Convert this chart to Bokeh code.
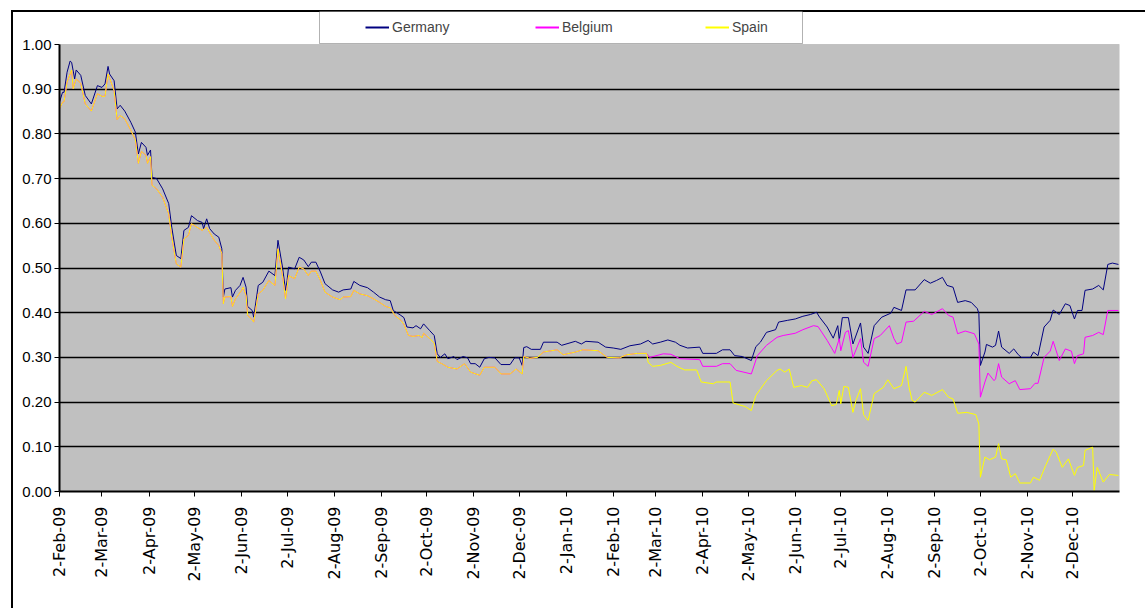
import math
import pandas as pd
from bokeh.plotting import figure
from bokeh.models import (Range1d, FixedTicker, NumeralTickFormatter, Legend, LegendItem,
                          BoxAnnotation, ColumnDataSource)
from bokeh.embed import file_html
from bokeh.resources import INLINE

# ---------------- data ----------------
START = "2009-02-02"  # day 0 of the series

tick_labels = ["2-Feb-09", "2-Mar-09", "2-Apr-09", "2-May-09", "2-Jun-09", "2-Jul-09",
               "2-Aug-09", "2-Sep-09", "2-Oct-09", "2-Nov-09", "2-Dec-09", "2-Jan-10",
               "2-Feb-10", "2-Mar-10", "2-Apr-10", "2-May-10", "2-Jun-10", "2-Jul-10",
               "2-Aug-10", "2-Sep-10", "2-Oct-10", "2-Nov-10", "2-Dec-10"]
y_ticks = [0.0, 0.1, 0.2, 0.3, 0.4, 0.5, 0.6, 0.7, 0.8, 0.9, 1.0]

germany_days = [0, 2, 3, 5, 7, 8, 10, 11, 14, 17,
                21, 25, 28, 30, 32, 33, 36, 38, 40, 43,
                47, 50, 52, 54, 57, 58, 60, 61, 64, 68,
                72, 74, 77, 80, 82, 85, 87, 91, 94, 95,
                97, 99, 102, 105, 107, 108, 109, 113, 114, 116,
                119, 121, 123, 124, 127, 128, 131, 134, 138, 142,
                144, 147, 149, 150, 151, 155, 158, 161, 164, 166,
                169, 172, 175, 180, 184, 187, 192, 194, 198, 203,
                207, 211, 215, 218, 220, 225, 227, 229, 233, 235,
                238, 240, 244, 247, 249, 251, 254, 256, 260, 262,
                266, 269, 271, 274, 277, 280, 283, 287, 291, 297,
                300, 303, 305, 306, 308, 311, 317, 319, 328, 331,
                340, 344, 347, 355, 360, 365, 370, 376, 383, 388,
                391, 396, 401, 406, 409, 414, 422, 424, 433, 437,
                442, 445, 450, 456, 459, 462, 466, 472, 474, 480,
                485, 490, 495, 499, 501, 506, 510, 513, 514, 516,
                520, 523, 528, 530, 533, 537, 542, 548, 550, 555,
                558, 564, 570, 574, 578, 582, 585, 589, 592, 597,
                601, 605, 606, 607, 610, 611, 615, 617, 619, 621,
                626, 629, 632, 634, 640, 642, 645, 649, 653, 655,
                659, 663, 666, 669, 671, 674, 676, 681, 685, 688,
                691, 694, 698]
germany_vals = [.871, .893, .893, .938, .963, .960, .923, .943, .931, .886,
                .867, .908, .904, .912, .951, .934, .919, .856, .864, .851,
                .826, .804, .755, .781, .770, .752, .764, .703, .700, .677,
                .644, .591, .528, .521, .584, .591, .617, .606, .602, .588,
                .610, .588, .576, .569, .543, .435, .453, .456, .435, .450,
                .461, .479, .457, .414, .405, .390, .461, .468, .493, .483,
                .562, .502, .450, .472, .502, .498, .524, .518, .503, .513,
                .513, .491, .465, .451, .446, .451, .453, .470, .461, .456,
                .446, .435, .429, .427, .405, .394, .389, .368, .366, .371,
                .364, .375, .360, .349, .308, .300, .308, .297, .302, .295,
                .302, .299, .286, .286, .278, .297, .300, .299, .284, .284,
                .299, .299, .282, .322, .324, .318, .318, .334, .334, .327,
                .336, .330, .336, .334, .323, .321, .318, .326, .330, .338,
                .330, .334, .339, .334, .327, .321, .323, .309, .309, .317,
                .317, .304, .302, .293, .324, .334, .356, .362, .379, .383,
                .386, .392, .396, .401, .390, .368, .343, .371, .338, .389,
                .389, .330, .377, .323, .309, .371, .390, .399, .412, .405,
                .451, .451, .474, .466, .472, .479, .461, .457, .423, .427,
                .423, .409, .398, .282, .312, .329, .323, .327, .359, .323,
                .309, .319, .306, .300, .300, .312, .304, .368, .383, .406,
                .396, .420, .416, .386, .405, .405, .450, .453, .461, .451,
                .508, .511, .508]

# Belgium and Spain coincide until late Feb 2010
shared_days = [0, 2, 3, 5, 8, 9, 11, 14, 17, 21,
               25, 28, 30, 32, 36, 38, 40, 43, 47, 50,
               52, 54, 57, 58, 60, 61, 64, 68, 72, 74,
               77, 80, 82, 85, 87, 94, 97, 102, 105, 107,
               108, 109, 113, 114, 116, 120, 121, 123, 124, 127,
               128, 131, 134, 138, 142, 144, 147, 149, 150, 151,
               155, 158, 161, 164, 166, 169, 172, 175, 180, 185,
               187, 192, 194, 198, 203, 207, 211, 215, 218, 221,
               225, 227, 230, 233, 237, 239, 240, 244, 247, 249,
               252, 256, 262, 267, 271, 277, 280, 287, 291, 297,
               301, 305, 306, 310, 315, 319, 328, 332, 340, 345,
               355, 361, 369, 374, 381, 387]
shared_vals = [.856, .871, .872, .916, .943, .901, .923, .913, .867, .851,
               .890, .884, .884, .934, .897, .832, .841, .834, .808, .787,
               .734, .761, .752, .734, .749, .685, .677, .658, .621, .569,
               .509, .502, .565, .573, .599, .584, .591, .562, .550, .532,
               .420, .435, .436, .414, .431, .450, .457, .438, .394, .384,
               .379, .442, .450, .472, .461, .543, .483, .431, .456, .483,
               .476, .502, .498, .483, .493, .493, .472, .446, .435, .429,
               .435, .436, .450, .442, .438, .431, .423, .414, .411, .394,
               .383, .374, .349, .347, .349, .344, .354, .342, .332, .291,
               .286, .278, .274, .286, .267, .260, .278, .278, .263, .263,
               .274, .263, .302, .298, .300, .312, .317, .306, .312, .317,
               .315, .300, .299, .306, .309, .309]

belgium_days = [389, 398, 403, 409, 422, 424, 433, 437, 442, 446,
                456, 460, 466, 473, 477, 485, 490, 497, 500, 506,
                511, 514, 515, 518, 520, 523, 528, 530, 533, 537,
                541, 547, 550, 552, 555, 558, 563, 570, 575, 582,
                586, 589, 592, 597, 603, 606, 607, 610, 612, 616,
                617, 619, 621, 626, 630, 633, 640, 643, 645, 649,
                653, 655, 659, 663, 667, 669, 671, 675, 676, 681,
                685, 688, 691, 698]
belgium_vals = [.300, .308, .307, .297, .295, .280, .280, .286, .286, .271,
                .263, .304, .327, .345, .349, .354, .362, .371, .369, .338,
                .309, .342, .315, .356, .360, .300, .342, .289, .280, .342,
                .349, .371, .342, .330, .334, .379, .381, .403, .396, .409,
                .394, .390, .353, .359, .353, .330, .211, .245, .265, .248,
                .252, .286, .256, .241, .248, .228, .230, .242, .242, .300,
                .314, .336, .293, .319, .314, .286, .304, .308, .345, .349,
                .356, .351, .405, .405]

spain_days = [388, 391, 396, 403, 407, 412, 420, 423, 431, 433,
              442, 444, 452, 456, 459, 466, 473, 475, 478, 481,
              484, 489, 493, 496, 499, 504, 509, 512, 514, 515,
              517, 520, 523, 525, 528, 530, 533, 537, 540, 543,
              546, 550, 555, 558, 560, 562, 564, 570, 575, 582,
              586, 589, 592, 598, 604, 606, 607, 610, 613, 617,
              619, 621, 624, 627, 630, 633, 640, 642, 646, 650,
              655, 657, 661, 665, 669, 671, 675, 676, 681, 682,
              684, 688, 692, 698]
spain_vals = [.289, .280, .282, .289, .280, .272, .272, .245, .241, .245,
              .245, .198, .190, .181, .215, .248, .271, .274, .267, .274,
              .233, .237, .233, .248, .250, .230, .192, .195, .226, .196,
              .235, .233, .177, .204, .230, .172, .159, .219, .226, .233,
              .250, .230, .237, .280, .233, .204, .200, .222, .215, .228,
              .211, .207, .175, .177, .172, .151, .032, .077, .071, .077,
              .107, .073, .071, .032, .040, .019, .019, .032, .025, .058,
              .095, .088, .054, .073, .036, .054, .058, .092, .099, .002,
              .054, .021, .038, .036]

series_names = ["Germany", "Belgium", "Spain"]
series_colors = ["#000080", "#FF00FF", "#FFFF00"]

# ---------------- build ----------------
start = pd.Timestamp(START)


def to_dates(days):
    return start + pd.to_timedelta(days, unit="D")


series = [(to_dates(germany_days), germany_vals),
          (to_dates(shared_days + belgium_days), shared_vals + belgium_vals),
          (to_dates(shared_days + spain_days), shared_vals + spain_vals)]

# frame runs from y=10 (so the legend sits inside it) down to the 0.00 line
p = figure(width=1145, height=608, x_axis_type="datetime", output_backend="svg",
           toolbar_location=None,
           min_border_left=59, min_border_right=26, min_border_top=10, min_border_bottom=117,
           background_fill_color=None, border_fill_alpha=0,
           outline_line_color=None)
# outer chart-area frame (left and top edges) drawn behind the transparent canvas
p.styles = {"background": "linear-gradient(#000, #000) 11px 10px / 2px 100% no-repeat, "
                          "linear-gradient(#000, #000) 11px 10px / 100% 2px no-repeat, #fff"}
p.x_range = Range1d(start, start + pd.Timedelta(days=698.7))
p.y_range = Range1d(0, 481 / 447)

# grey plot area 0..1
p.add_layout(BoxAnnotation(bottom=y_ticks[0], top=y_ticks[-1], fill_color="#C0C0C0", fill_alpha=1,
                           line_color="#808080", line_width=1, level="image"))

for (xs, ys), c in zip(series, series_colors):
    p.line(x=xs, y=ys, color=c, line_width=1)

# legend swatches: one-point (hence invisible) lines drawn 2px wide in the key
swatches = [p.line(x=xs[:1], y=ys[:1], color=c, line_width=2)
            for (xs, ys), c in zip(series, series_colors)]

# axes
epoch = pd.Timestamp("1970-01-01")
tick_dates = pd.to_datetime(tick_labels, format="%d-%b-%y")
tick_ms = [int((d - epoch).total_seconds() * 1000) for d in tick_dates]
p.xaxis.ticker = FixedTicker(ticks=tick_ms)
p.xaxis.major_label_overrides = {m: lab for m, lab in zip(tick_ms, tick_labels)}
p.xaxis.major_label_orientation = math.pi / 2
p.xaxis.major_label_text_font = "DejaVu Sans"
p.xaxis.major_label_text_font_size = "16px"
p.xaxis.major_label_standoff = 10

p.yaxis.ticker = FixedTicker(ticks=y_ticks)
p.yaxis.bounds = (y_ticks[0], y_ticks[-1])
p.yaxis.formatter = NumeralTickFormatter(format="0.00")
p.yaxis.major_label_text_font = "Liberation Sans"
p.yaxis.major_label_text_font_size = "15px"
p.yaxis.major_label_standoff = 3

for ax in (p.xaxis[0], p.yaxis[0]):
    ax.axis_line_color = "black"
    ax.axis_line_width = 2
    ax.major_tick_line_color = "black"
    ax.major_tick_line_width = 1
    ax.major_tick_out = 5
    ax.major_tick_in = 0
    ax.minor_tick_line_color = None
    ax.major_label_text_color = "black"

p.xgrid.visible = False
p.ygrid.ticker = FixedTicker(ticks=y_ticks[1:-1])
p.ygrid.grid_line_color = "black"
p.ygrid.grid_line_width = 1.6

# legend: white box with black border above the grey area
p.add_layout(BoxAnnotation(left=260, right=743, top=480, bottom=448,
                           left_units="screen", right_units="screen",
                           top_units="screen", bottom_units="screen",
                           fill_color="white", fill_alpha=1, line_color="black", line_width=1))
legend = Legend(items=[LegendItem(label=n, renderers=[s]) for n, s in zip(series_names, swatches)],
                orientation="horizontal", location=(302, 450), padding=4, spacing=75,
                glyph_width=24, glyph_height=20, label_height=20, label_width=68,
                label_standoff=3, margin=0,
                border_line_alpha=0, background_fill_alpha=0,
                label_text_font="Liberation Sans", label_text_font_size="14px")
p.add_layout(legend)

open("out.html", "w").write(file_html(p, INLINE))
